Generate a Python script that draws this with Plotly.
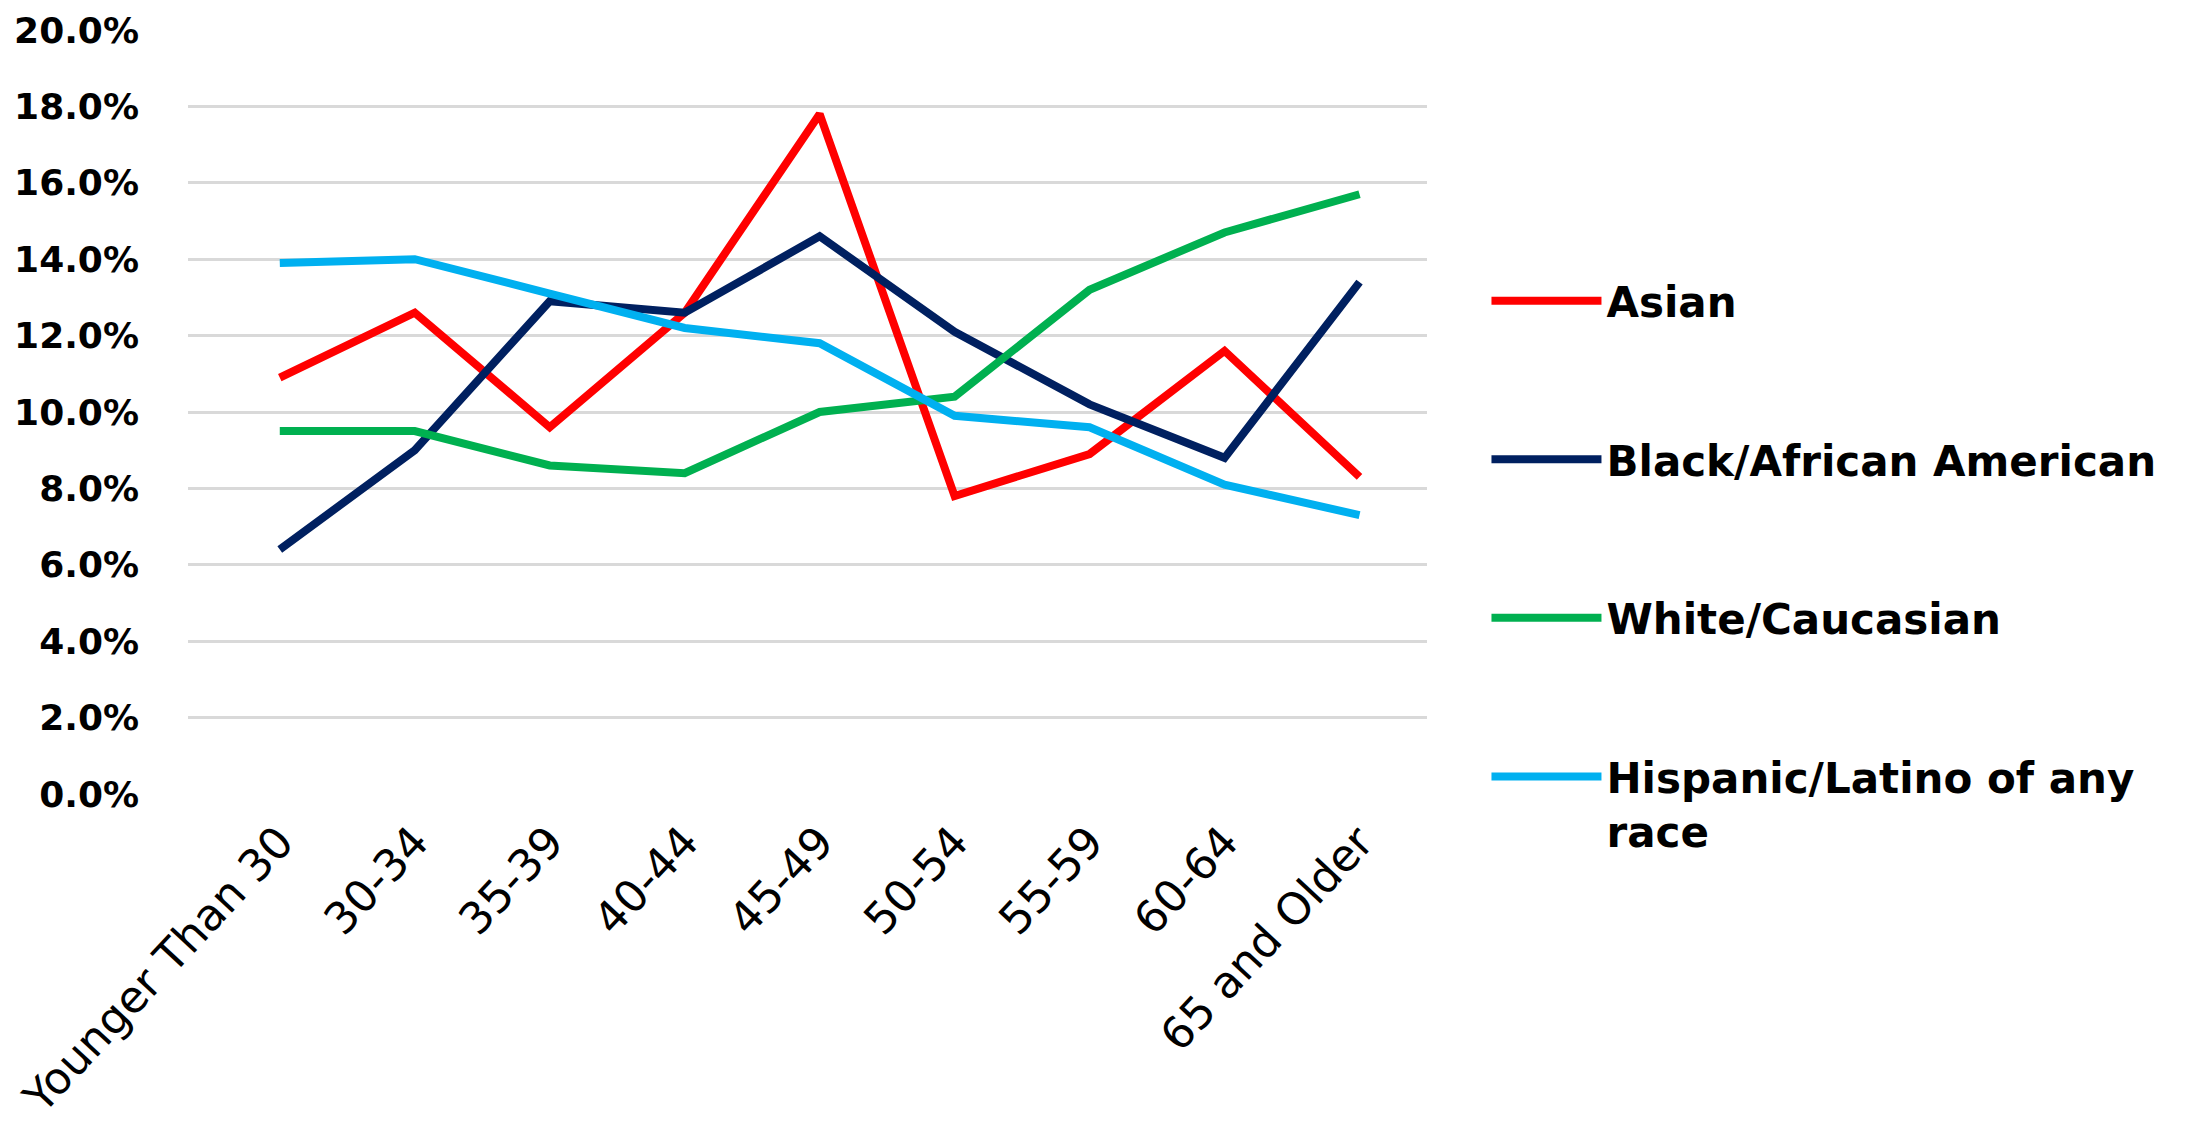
import plotly.graph_objects as go

categories = ["Younger Than 30", "30-34", "35-39", "40-44", "45-49",
              "50-54", "55-59", "60-64", "65 and Older"]

asian = [10.9, 12.6, 9.6, 12.6, 17.8, 7.8, 8.9, 11.6, 8.3]
black = [6.4, 9.0, 12.9, 12.6, 14.6, 12.1, 10.2, 8.8, 13.4]
white = [9.5, 9.5, 8.6, 8.4, 10.0, 10.4, 13.2, 14.7, 15.7]
hispanic = [13.9, 14.0, 13.1, 12.2, 11.8, 9.9, 9.6, 8.1, 7.3]

series_names = ["Asian", "Black/African American", "White/Caucasian",
                "Hispanic/Latino of any<br>race"]
series_values = [asian, black, white, hispanic]
series_colors = ["#FF0000", "#002060", "#00B050", "#00B0F0"]

y_ticks = [0, 2, 4, 6, 8, 10, 12, 14, 16, 18, 20]

fig = go.Figure()
for name, vals, col in zip(series_names, series_values, series_colors):
    fig.add_trace(go.Scatter(
        x=categories, y=vals, name=name, mode="lines",
        line=dict(color=col, width=8), legendgroup=name,
    ))

fig.update_layout(
    width=2190, height=1127,
    margin=dict(l=188, r=763, t=30, b=333, autoexpand=False),
    paper_bgcolor="white", plot_bgcolor="white",
    font=dict(family="DejaVu Sans, sans-serif", color="black"),
    showlegend=True,
    legend=dict(
        x=1.048, y=0.69, xanchor="left", yanchor="top",
        font=dict(size=42, family="DejaVu Sans, sans-serif", color="black", weight="bold"),
        tracegroupgap=101, traceorder="grouped", valign="top",
        bgcolor="rgba(0,0,0,0)", itemwidth=110,
    ),
    xaxis=dict(
        type="category", tickangle=-47, range=[-0.68, 8.5],
        tickfont=dict(size=44, family="DejaVu Sans, sans-serif", color="black"),
        showgrid=False, showline=False, zeroline=False, ticks="",
        ticklabelstandoff=12, automargin=False,
    ),
    yaxis=dict(
        range=[0, 20], tickvals=y_ticks,
        ticktext=[f"{v:.1f}%" for v in y_ticks],
        tickfont=dict(size=36, family="DejaVu Sans, sans-serif", color="black", weight="bold"),
        showgrid=True, gridcolor="#D9D9D9", gridwidth=3,
        zeroline=False, showline=False, ticks="",
        ticklabelstandoff=48, automargin=False,
    ),
)

fig.write_html("out.html")
